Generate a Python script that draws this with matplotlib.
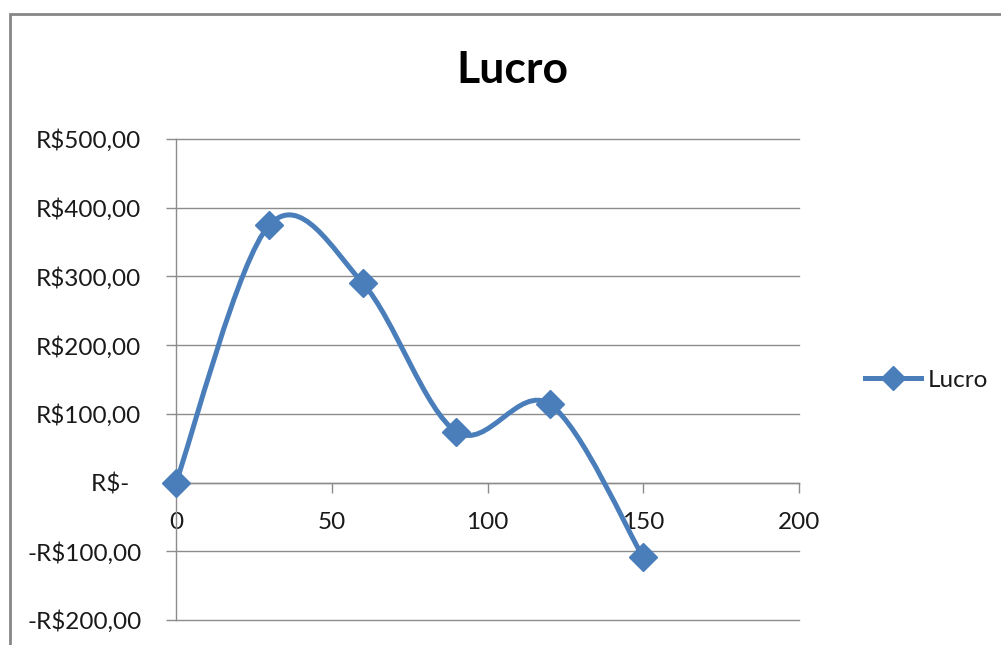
import numpy as np
import matplotlib.pyplot as plt
from matplotlib.path import Path
from matplotlib.patches import PathPatch, Rectangle
from matplotlib.lines import Line2D
from matplotlib.ticker import FuncFormatter

plt.rcParams['font.family'] = ['Lato', 'DejaVu Sans']

# data
dias = [0, 30, 60, 90, 120, 150]
lucro = [0, 375, 290, 74, 114, -109]
x_ticks = [0, 50, 100, 150, 200]
y_ticks = [-200, -100, 0, 100, 200, 300, 400, 500]

cor = '#4A7EBB'
grade = '#8C8C8C'


def reais(v, pos):
    if v == 0:
        return 'R$-  '
    s = 'R$%.2f' % abs(v)
    s = s.replace('.', ',')
    return '-' + s if v < 0 else s


def suave(xs, ys):
    # excel-like smoothed line: bezier segments, catmull-rom control points
    pts = np.column_stack([xs, ys]).astype(float)
    n = len(pts)
    verts = [pts[0]]
    codes = [Path.MOVETO]
    for i in range(n - 1):
        p0 = pts[i - 1] if i > 0 else pts[i]
        p1 = pts[i]
        p2 = pts[i + 1]
        p3 = pts[i + 2] if i + 2 < n else pts[i + 1]
        c1 = p1 + (p2 - p0) / 6.0
        c2 = p2 - (p3 - p1) / 6.0
        verts += [c1, c2, p2]
        codes += [Path.CURVE4] * 3
    return Path(verts, codes)


fig = plt.figure(figsize=(10.01, 6.45), dpi=100)

# chart border
fig.patches.append(Rectangle((10 / 1001, -0.1), 1.2, (645 - 14) / 645 + 0.1,
                             transform=fig.transFigure, fill=False,
                             edgecolor='#868686', linewidth=2))

ax = fig.add_axes([176 / 1001, (645 - 620) / 645, (799 - 176) / 1001, (620 - 139) / 645])
ax.set_xlim(0, 200)
ax.set_ylim(-200, 500)

ax.add_patch(PathPatch(suave(dias, lucro), facecolor='none', edgecolor=cor,
                       linewidth=3.6, capstyle='round', zorder=3))
ax.plot(dias, lucro, linestyle='none', marker='D', markersize=14,
        color=cor, zorder=4, clip_on=False)

ax.set_xticks(x_ticks)
ax.set_yticks(y_ticks)
ax.yaxis.set_major_formatter(FuncFormatter(reais))
ax.grid(axis='y', color=grade, linewidth=1)
ax.set_axisbelow(True)
for g in ax.get_ygridlines():
    g.set_clip_on(False)

ax.spines['top'].set_visible(False)
ax.spines['right'].set_visible(False)
ax.spines['bottom'].set_position(('data', 0))
for s in ['left', 'bottom']:
    ax.spines[s].set_color(grade)
    ax.spines[s].set_linewidth(1)

ax.tick_params(axis='both', colors=grade, labelcolor='#1a1a1a',
               labelsize=17.5, length=7, width=1, direction='out')
ax.tick_params(axis='x', pad=14)
ax.tick_params(axis='y', pad=18)

fig.text(512 / 1001, 1 - 70 / 645, 'Lucro', ha='center', va='center',
         fontsize=32, fontweight='bold', color='black')

h = Line2D([], [], color=cor, linewidth=3.6, marker='D', markersize=12)
fig.legend([h], ['Lucro'], loc='center left', bbox_to_anchor=(843 / 1001, 1 - 380 / 645),
           frameon=False, fontsize=17.5, handlelength=2.3, handletextpad=0.3,
           labelcolor='#1a1a1a')

fig.savefig('out.png', dpi=100)
